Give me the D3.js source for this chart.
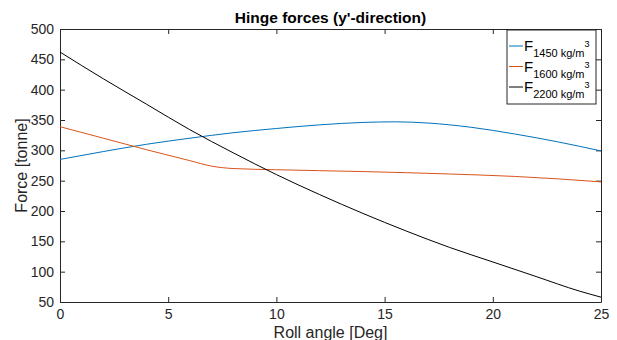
<!DOCTYPE html>
<html>
<head>
<meta charset="utf-8">
<script src="https://cdn.jsdelivr.net/npm/d3@7"></script>
<style>
  body { margin: 0; background: #fff; }
  svg { display: block; font-family: "Liberation Sans", Arial, sans-serif; }
</style>
</head>
<body>
<div id="chart"></div>
<script>
// Roll angle samples [deg] and hinge forces [tonne]
const anglesBlue = [0, 2, 4, 6, 8, 10, 12, 14, 15.5, 17, 19, 21, 23, 25];
const force1450 = [285, 298, 310, 320, 329, 336, 342, 346, 347, 345, 338, 327, 314, 299];

const anglesRed = [0, 2, 4, 6, 7, 8, 10, 14, 18, 21, 23, 25];
const force1600 = [339, 320, 301, 283, 274, 270, 268, 265, 261, 257, 253, 248];

const anglesBlack = [0, 2, 4, 6, 8, 10, 12, 14, 16, 18, 20, 22, 24, 25];
const force2200 = [462, 418, 376, 334, 296, 260, 227, 196, 167, 140, 116, 92, 68, 58];

const seriesNames = ['1450', '1600', '2200'];
const seriesColors = ['#0072BD', '#D95319', '#000000'];
const xTicks = [0, 5, 10, 15, 20, 25];
const yTicks = [50, 100, 150, 200, 250, 300, 350, 400, 450, 500];

const width = 617, height = 340;
const margin = { top: 29, right: 16, bottom: 38, left: 60 };
const axisColor = '#262626';

const svg = d3.select('#chart').append('svg')
  .attr('width', width)
  .attr('height', height);

// Scales
const x = d3.scaleLinear().domain([0, 25]).range([margin.left, width - margin.right]);
const y = d3.scaleLinear().domain([50, 500]).range([height - margin.bottom, margin.top]);

// Ticks point inward, on all four sides (box on)
const tickLen = 5;
const axisBottom = svg.append('g')
  .attr('transform', `translate(0, ${y(50)})`)
  .call(d3.axisBottom(x).tickValues(xTicks).tickSizeInner(-tickLen).tickSizeOuter(0).tickPadding(7));
const axisTop = svg.append('g')
  .attr('transform', `translate(0, ${y(500)})`)
  .call(d3.axisTop(x).tickValues(xTicks).tickSizeInner(-tickLen).tickSizeOuter(0).tickFormat(''));
const axisLeft = svg.append('g')
  .attr('transform', `translate(${x(0)}, 0)`)
  .call(d3.axisLeft(y).tickValues(yTicks).tickSizeInner(-tickLen).tickSizeOuter(0).tickPadding(6));
const axisRight = svg.append('g')
  .attr('transform', `translate(${x(25)}, 0)`)
  .call(d3.axisRight(y).tickValues(yTicks).tickSizeInner(-tickLen).tickSizeOuter(0).tickFormat(''));

[axisBottom, axisTop, axisLeft, axisRight].forEach(g => {
  g.select('.domain').attr('stroke', axisColor).attr('stroke-width', 1);
  g.selectAll('.tick line').attr('stroke', axisColor);
  g.selectAll('.tick text')
    .attr('fill', axisColor)
    .style('font-size', '14px')
    .style('font-family', '"Liberation Sans", Arial, sans-serif');
});

// Lines
const line = d3.line()
  .x(d => x(d[0]))
  .y(d => y(d[1]))
  .curve(d3.curveMonotoneX);

const series = [
  d3.zip(anglesBlue, force1450),
  d3.zip(anglesRed, force1600),
  d3.zip(anglesBlack, force2200)
];

svg.append('g').selectAll('path')
  .data(series)
  .enter()
  .append('path')
  .attr('d', line)
  .attr('fill', 'none')
  .attr('stroke', (d, i) => seriesColors[i])
  .attr('stroke-width', 1);

// Title and axis labels
svg.append('text')
  .attr('x', (x(0) + x(25)) / 2)
  .attr('y', 23)
  .attr('text-anchor', 'middle')
  .attr('fill', '#000')
  .style('font-size', '15.5px')
  .style('font-weight', 'bold')
  .text("Hinge forces (y'-direction)");

svg.append('text')
  .attr('x', (x(0) + x(25)) / 2)
  .attr('y', 338)
  .attr('text-anchor', 'middle')
  .attr('fill', axisColor)
  .style('font-size', '16px')
  .text('Roll angle [Deg]');

svg.append('text')
  .attr('transform', `translate(27, ${(y(50) + y(500)) / 2}) rotate(-90)`)
  .attr('text-anchor', 'middle')
  .attr('fill', axisColor)
  .style('font-size', '16px')
  .text('Force [tonne]');

// Legend
const legend = svg.append('g');
legend.append('rect')
  .attr('x', 507)
  .attr('y', 30)
  .attr('width', 89)
  .attr('height', 74)
  .attr('fill', '#fff')
  .attr('stroke', axisColor)
  .attr('stroke-width', 1);

const legendItems = legend.selectAll('.legend-item')
  .data(seriesNames)
  .enter()
  .append('g')
  .attr('class', 'legend-item')
  .attr('transform', (d, i) => `translate(509, ${46 + i * 20.5})`);

legendItems.append('line')
  .attr('x1', 0)
  .attr('x2', 14)
  .attr('stroke', (d, i) => seriesColors[i])
  .attr('stroke-width', 1);

const label = legendItems.append('text')
  .attr('x', 15)
  .attr('y', 5)
  .attr('fill', '#000')
  .style('font-size', '15px');
label.append('tspan').text('F');
label.append('tspan')
  .attr('dy', 6)
  .style('font-size', '11px')
  .text(d => `${d} kg/m`);
label.append('tspan')
  .attr('dy', -10)
  .style('font-size', '9px')
  .text('3');
</script>
</body>
</html>
